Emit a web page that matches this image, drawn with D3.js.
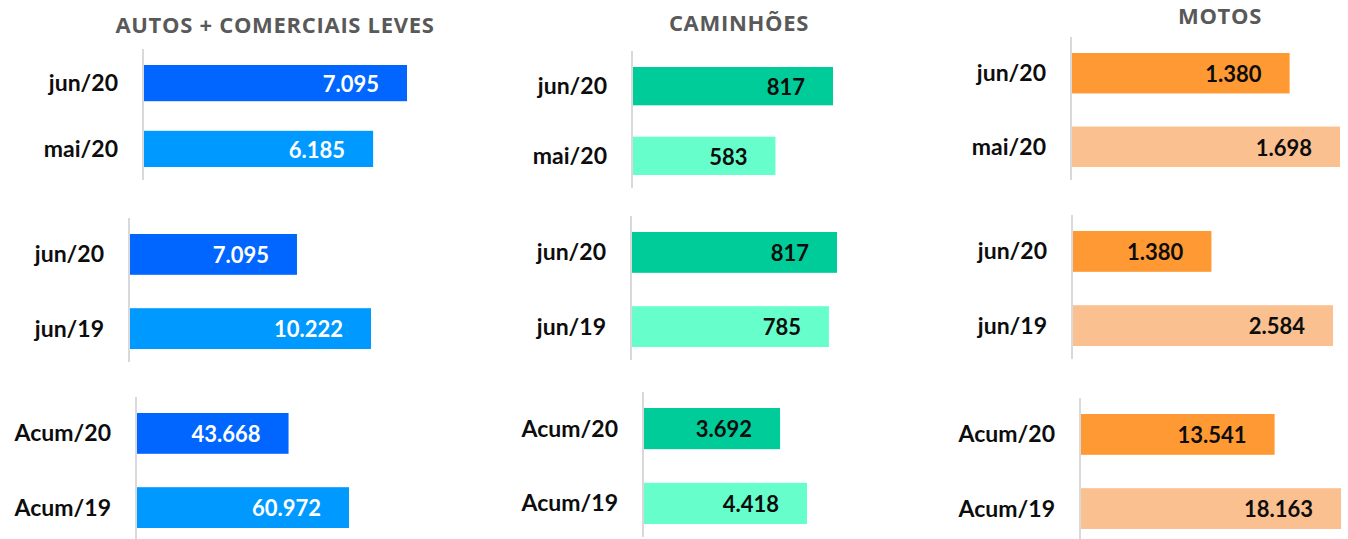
<!DOCTYPE html>
<html>
<head>
<meta charset="utf-8">
<script src="https://cdn.jsdelivr.net/npm/d3@7"></script>
<style>
  body { margin: 0; background: #fff; }
</style>
</head>
<body>
<div id="chart"></div>
<script>
var width = 1348;
var height = 539;

// data
var groupTitles = ["AUTOS + COMERCIAIS LEVES", "CAMINHÕES", "MOTOS"];
var rowCategories = [
  ["jun/20", "mai/20"],
  ["jun/20", "jun/19"],
  ["Acum/20", "Acum/19"]
];
var autosValues = [[7095, 6185], [7095, 10222], [43668, 60972]];
var caminhoesValues = [[817, 583], [817, 785], [3692, 4418]];
var motosValues = [[1380, 1698], [1380, 2584], [13541, 18163]];
var allValues = [autosValues, caminhoesValues, motosValues];

// styling per group: [dark, light], label colour
var barColors = [["#0066FF", "#0099FF"], ["#00CC99", "#66FFCC"], ["#FF9933", "#FAC090"]];
var valueColors = ["#FFFFFF", "#0D0D0D", "#0D0D0D"];

// layout: axis x, top of first bar, bottom of last bar, x where max bar ends
var layout = [
  [{ax: 143, y0: 65, y1: 167, end: 407}, {ax: 129, y0: 234, y1: 349, end: 371}, {ax: 136, y0: 413, y1: 528, end: 349}],
  [{ax: 632, y0: 67, y1: 175, end: 833}, {ax: 631, y0: 232, y1: 347, end: 837}, {ax: 643, y0: 408, y1: 524, end: 807}],
  [{ax: 1071, y0: 53, y1: 167, end: 1340}, {ax: 1072, y0: 231, y1: 346, end: 1333}, {ax: 1080, y0: 414, y1: 529, end: 1341}]
];
var titlePos = [{x: 275, y: 33}, {x: 739, y: 31}, {x: 1220, y: 24}];

var ptBR = d3.formatLocale({decimal: ",", thousands: ".", grouping: [3], currency: ["R$", ""]});
var fmt = ptBR.format(",d");

var svg = d3.select("#chart")
  .append("svg")
  .attr("width", width)
  .attr("height", height);

groupTitles.forEach(function(title, g) {
  svg.append("text")
    .attr("x", titlePos[g].x)
    .attr("y", titlePos[g].y)
    .attr("text-anchor", "middle")
    .attr("font-family", "Open Sans")
    .attr("font-weight", 700)
    .attr("font-size", 22)
    .attr("letter-spacing", 0.7)
    .attr("fill", "#595959")
    .text(title);

  rowCategories.forEach(function(cats, r) {
    var L = layout[g][r];
    var vals = allValues[g][r];
    var rows = cats.map(function(c, i) { return {cat: c, value: vals[i], i: i}; });

    var x = d3.scaleLinear().domain([0, d3.max(vals)]).range([L.ax, L.end]);
    var y = d3.scaleBand().domain(cats).range([L.y0, L.y1]).paddingInner(0.45);

    var panel = svg.append("g").attr("class", "panel");

    panel.selectAll("rect")
      .data(rows)
      .enter().append("rect")
      .attr("x", x(0))
      .attr("y", function(d) { return y(d.cat); })
      .attr("width", function(d) { return x(d.value) - x(0); })
      .attr("height", y.bandwidth())
      .attr("fill", function(d) { return barColors[g][d.i]; });

    // axis line
    panel.append("line")
      .attr("x1", x(0)).attr("x2", x(0))
      .attr("y1", L.y0 - 16).attr("y2", L.y1 + 13)
      .attr("stroke", "#D9D9D9")
      .attr("stroke-width", 2);

    // category labels
    panel.selectAll(".cat")
      .data(rows)
      .enter().append("text")
      .attr("class", "cat")
      .attr("x", x(0) - 25)
      .attr("y", function(d) { return y(d.cat) + y.bandwidth() / 2; })
      .attr("dy", "0.35em")
      .attr("text-anchor", "end")
      .style("font", "bold 23px Lato")
      .attr("fill", "#0D0D0D")
      .text(function(d) { return d.cat; });

    // value labels
    panel.selectAll(".val")
      .data(rows)
      .enter().append("text")
      .attr("class", "val")
      .attr("x", function(d) { return x(d.value) - 28; })
      .attr("y", function(d) { return y(d.cat) + y.bandwidth() / 2; })
      .attr("dy", "0.4em")
      .attr("text-anchor", "end")
      .style("font", "bold 22px Lato")
      .attr("fill", valueColors[g])
      .text(function(d) { return fmt(d.value); });
  });
});
</script>
</body>
</html>
